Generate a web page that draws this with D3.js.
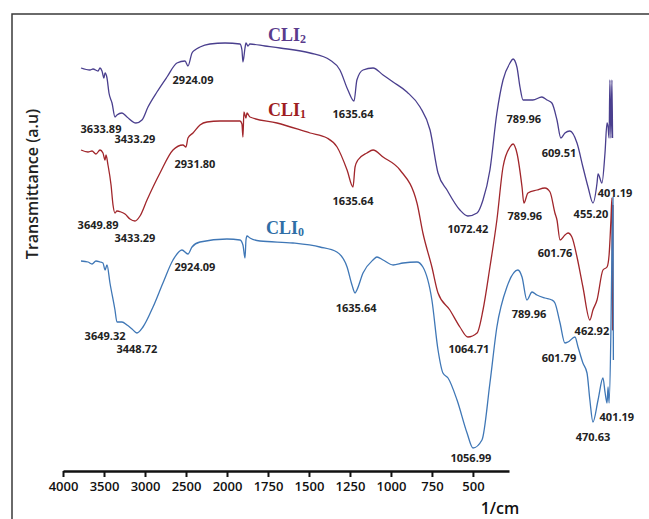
<!DOCTYPE html>
<html>
<head>
<meta charset="utf-8">
<script src="https://cdn.jsdelivr.net/npm/d3@7"></script>
<style>
  html, body { margin: 0; padding: 0; background: #fff; }
  svg { display: block; }
</style>
</head>
<body>
<div id="chart"></div>
<script>
// FTIR spectra of CLI0, CLI1, CLI2 (wavenumber in 1/cm, transmittance in arbitrary units, stacked)

const seriesNames = ["CLI2", "CLI1", "CLI0"]
const seriesColors = ["#4a3f8e", "#a1262b", "#3f77b6"]
const nameColors = ["#5a3b8c", "#9e1d22", "#2f6ea6"]

const cli2Wn = [4000, 3909, 3878, 3827, 3807, 3787, 3767, 3756, 3736, 3716, 3685, 3655, 3635, 3584, 3533, 3442, 3381, 3320, 3229, 3127, 3026, 2944, 2914, 2873, 2843, 2792, 2691, 2538, 2386, 2366, 2356, 2335, 2325, 2305, 2285, 2132, 1990, 1843, 1746, 1697, 1658, 1628, 1614, 1584, 1535, 1486, 1437, 1369, 1305, 1256, 1217, 1173, 1110, 1071, 1026, 997, 963, 929, 899, 865, 850, 831, 816, 801, 777, 753, 709, 684, 660, 635, 616, 596, 572, 537, 508, 483, 459, 439, 434, 415, 400, 390, 385, 380, 376, 371, 366, 363]
const cli2T = [79.4, 79.0, 79.2, 78.8, 79.4, 78.8, 77.4, 78.4, 77.4, 74.4, 72.4, 69.6, 70.0, 70.4, 69.6, 68.4, 69.0, 71.6, 74.6, 77.6, 80.4, 80.8, 79.8, 82.4, 83.0, 83.6, 84.2, 84.4, 84.2, 83.0, 80.6, 83.4, 84.4, 83.8, 84.2, 83.8, 83.4, 82.4, 81.0, 79.0, 75.0, 72.8, 77.0, 79.0, 79.4, 78.0, 76.6, 74.6, 71.6, 67.0, 58.4, 55.0, 51.0, 49.8, 50.4, 53.0, 59.0, 70.4, 77.0, 80.4, 81.2, 79.6, 75.6, 73.0, 73.0, 73.0, 73.6, 73.0, 72.4, 69.0, 65.4, 66.4, 66.8, 64.4, 59.6, 55.6, 52.4, 56.4, 58.2, 56.4, 62.4, 68.4, 67.6, 65.4, 77.0, 65.4, 77.0, 65.4]

const cli1Wn = [4000, 3929, 3888, 3848, 3807, 3777, 3756, 3746, 3726, 3695, 3675, 3655, 3635, 3594, 3553, 3503, 3452, 3401, 3330, 3198, 3066, 2965, 2934, 2914, 2863, 2792, 2721, 2589, 2386, 2366, 2356, 2346, 2325, 2315, 2285, 2010, 1843, 1760, 1711, 1662, 1633, 1623, 1609, 1565, 1535, 1486, 1403, 1320, 1291, 1247, 1217, 1159, 1110, 1071, 1026, 997, 963, 929, 899, 865, 850, 831, 806, 797, 777, 733, 694, 669, 645, 635, 620, 596, 581, 562, 537, 508, 474, 459, 439, 410, 390, 380, 371, 366, 363, 361]
const cli1T = [63.0, 62.6, 62.8, 62.2, 63.0, 62.4, 61.0, 62.0, 60.0, 56.0, 52.0, 50.4, 50.8, 50.6, 50.2, 49.2, 48.8, 49.8, 53.0, 58.4, 63.0, 64.0, 63.6, 65.4, 66.4, 68.0, 68.6, 68.8, 68.8, 68.2, 65.6, 70.6, 69.4, 70.4, 69.6, 68.4, 66.4, 65.4, 63.6, 59.0, 55.6, 59.6, 61.0, 62.4, 63.0, 61.6, 59.0, 52.4, 46.4, 39.6, 34.4, 31.0, 27.6, 25.6, 26.4, 31.0, 39.6, 49.0, 59.6, 63.6, 64.2, 62.4, 55.6, 52.4, 54.4, 55.0, 55.4, 54.6, 50.4, 49.0, 45.0, 46.0, 46.4, 45.6, 41.6, 35.6, 29.0, 31.0, 33.0, 39.0, 39.6, 42.0, 49.0, 53.4, 27.0, 52.0]

const cli0Wn = [4000, 3929, 3888, 3848, 3807, 3777, 3756, 3736, 3706, 3655, 3635, 3584, 3533, 3482, 3432, 3371, 3269, 3168, 3066, 2975, 2914, 2873, 2792, 2518, 2386, 2356, 2335, 2325, 2315, 2285, 2183, 1927, 1795, 1712, 1662, 1638, 1623, 1614, 1584, 1535, 1516, 1486, 1437, 1388, 1320, 1291, 1247, 1217, 1193, 1168, 1124, 1075, 1046, 1002, 963, 929, 880, 826, 806, 782, 757, 733, 694, 660, 645, 620, 596, 581, 547, 532, 508, 488, 474, 459, 434, 410, 400, 390, 385, 380, 371, 366, 361, 359]
const cli0T = [40.8, 40.6, 40.2, 40.8, 40.6, 40.4, 39.0, 40.0, 36.4, 31.0, 28.6, 28.6, 28.0, 27.2, 26.4, 27.6, 31.6, 36.4, 41.0, 43.0, 42.2, 43.6, 44.6, 45.2, 45.0, 44.0, 41.4, 45.0, 45.8, 45.4, 44.8, 44.4, 43.6, 42.6, 39.6, 36.0, 34.4, 35.0, 38.4, 41.0, 41.6, 41.0, 40.0, 40.4, 40.6, 39.6, 33.0, 23.0, 18.4, 17.4, 13.0, 6.4, 3.4, 5.0, 16.4, 27.6, 35.6, 39.0, 37.6, 33.0, 34.6, 34.0, 33.4, 33.0, 32.4, 28.4, 24.4, 24.6, 25.6, 23.6, 20.4, 18.4, 13.0, 8.6, 13.0, 17.4, 14.6, 12.4, 15.6, 12.4, 27.0, 43.0, 53.6, 21.0]

// series name labels: [wavenumber, transmittance]
const nameWn = [1956, 1956, 1966]
const nameT = [86.0, 71.0, 47.4]

// peak annotations
const peakText = ["3633.89", "3433.29", "2924.09", "1635.64", "1072.42", "789.96", "609.51", "455.20", "401.19",
  "3649.89", "3433.29", "2931.80", "1635.64", "1064.71", "789.96", "601.76", "462.92",
  "3649.32", "3448.72", "2924.09", "1635.64", "1056.99", "789.96", "601.79", "470.63", "401.19"]
const peakWn = [3797, 3452, 2863, 1633, 1071, 797, 625, 469, 351,
  3827, 3452, 2843, 1633, 1066, 792, 645, 464,
  3756, 3432, 2843, 1618, 1056, 772, 625, 459, 342]
const peakT = [67.4, 65.4, 77.2, 70.4, 47.4, 69.4, 62.6, 50.4, 54.6,
  48.2, 45.6, 60.4, 53.0, 23.4, 50.0, 42.6, 27.0,
  26.0, 23.4, 39.8, 31.6, 1.6, 30.4, 21.6, 5.8, 9.8]

const tickValues = [4000, 3500, 3000, 2500, 2000, 1750, 1500, 1250, 1000, 750, 500]

const width = 649
const height = 519

const svg = d3.select("#chart").append("svg")
  .attr("width", width)
  .attr("height", height)

// frame
svg.append("path")
  .attr("d", `M12,${height} L12,14 L${width},14`)
  .attr("fill", "none")
  .attr("stroke", "#3a3a3a")
  .attr("stroke-width", 1.5)

// spectra scale (two linear segments, break at 2000)
const x = d3.scaleLinear().domain([4000, 2000, 400]).range([81, 278, 605])
const y = d3.scaleLinear().domain([0, 90]).range([465, 15])

// axis scale (drawn independently, as in the figure)
const xAxisScale = d3.scaleLinear().domain([4000, 2000, 280]).range([63, 227, 509])

const allWn = [cli2Wn, cli1Wn, cli0Wn]
const allT = [cli2T, cli1T, cli0T]

const line = d3.line()
  .x((d) => x(d[0]))
  .y((d) => y(d[1]))
  .curve(d3.curveMonotoneX)

allWn.forEach((wn, i) => {
  const pts = wn.map((w, j) => [w, allT[i][j]])
  svg.append("path")
    .datum(pts)
    .attr("fill", "none")
    .attr("stroke", seriesColors[i])
    .attr("stroke-width", 1.3)
    .attr("stroke-linejoin", "round")
    .attr("d", line)
})

// series names with subscripts
seriesNames.forEach((name, i) => {
  const t = svg.append("text")
    .attr("x", x(nameWn[i]))
    .attr("y", y(nameT[i]))
    .attr("text-anchor", "middle")
    .attr("dominant-baseline", "central")
    .attr("font-family", "'Liberation Serif', 'Times New Roman', serif")
    .attr("font-weight", "bold")
    .attr("font-size", 18)
    .attr("fill", nameColors[i])
  t.append("tspan").text(name.slice(0, 3))
  t.append("tspan").attr("font-size", 12).attr("dy", 4).text(name.slice(3))
})

// peak labels
svg.append("g")
  .selectAll("text")
  .data(peakText)
  .join("text")
  .attr("x", (d, i) => x(peakWn[i]))
  .attr("y", (d, i) => y(peakT[i]))
  .attr("text-anchor", "middle")
  .attr("dominant-baseline", "central")
  .attr("font-family", "'Open Sans', sans-serif")
  .attr("font-weight", 700)
  .attr("font-size", 11)
  .attr("fill", "#222")
  .text((d) => d)

// x axis
const axisG = svg.append("g")
  .attr("transform", "translate(0,471)")
  .call(d3.axisBottom(xAxisScale).tickValues(tickValues).tickFormat(d3.format("d")).tickSize(6).tickSizeOuter(0).tickPadding(5))

axisG.select(".domain").attr("stroke", "#111").attr("stroke-width", 2.5)
axisG.selectAll(".tick line").attr("stroke", "#111").attr("stroke-width", 2)
axisG.selectAll(".tick text")
  .attr("font-family", "'Open Sans', sans-serif")
  .attr("font-weight", 600)
  .attr("font-size", 13)
  .attr("fill", "#111")

svg.append("text")
  .attr("x", 500)
  .attr("y", 508)
  .attr("text-anchor", "middle")
  .attr("dominant-baseline", "central")
  .attr("font-family", "'Open Sans', sans-serif")
  .attr("font-weight", 600)
  .attr("font-size", 16)
  .attr("fill", "#111")
  .text("1/cm")

// y title
svg.append("text")
  .attr("transform", "translate(32,184) rotate(-90)")
  .attr("text-anchor", "middle")
  .attr("dominant-baseline", "central")
  .attr("font-family", "'Open Sans', sans-serif")
  .attr("font-weight", 600)
  .attr("font-size", 16)
  .attr("fill", "#222")
  .text("Transmittance (a.u)")
</script>
</body>
</html>
